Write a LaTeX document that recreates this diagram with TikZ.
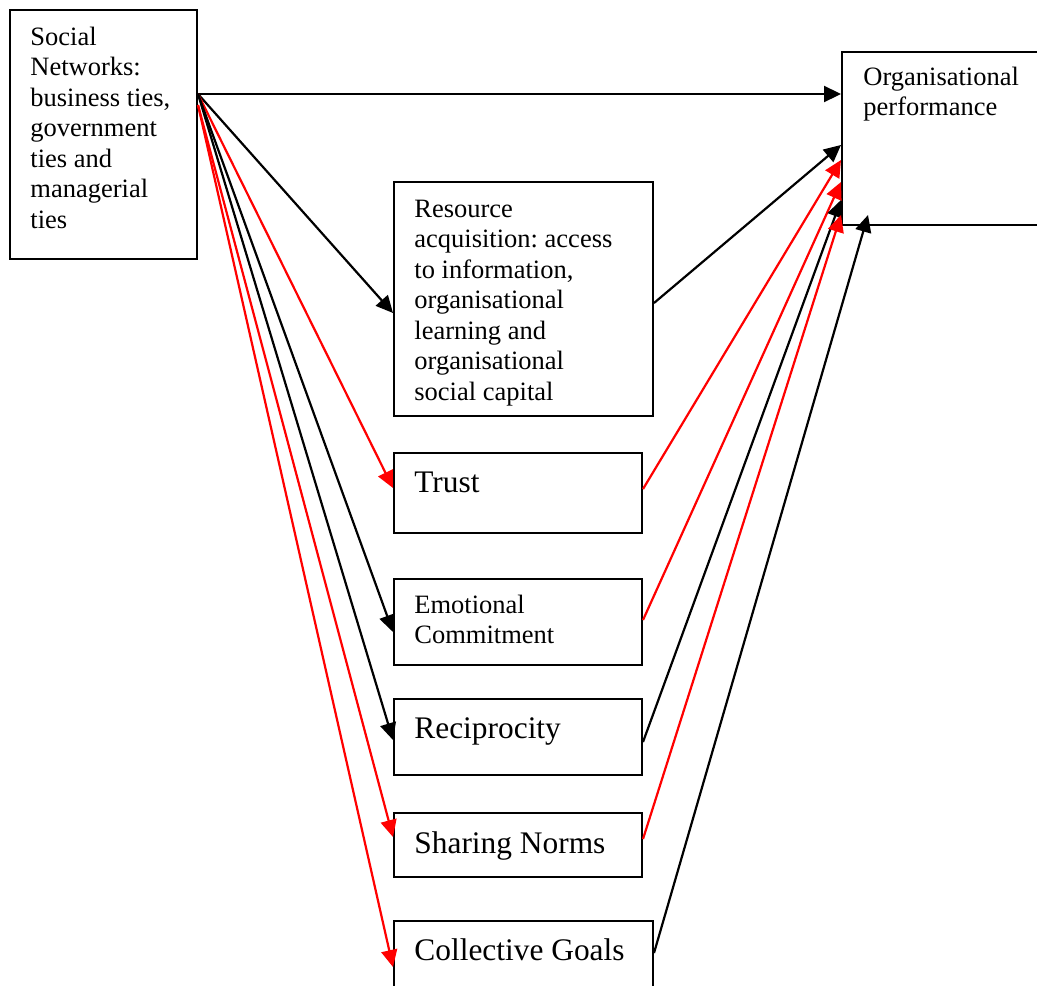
\documentclass[tikz,border=0pt]{standalone}
\usepackage{fontspec}
\setmainfont{Liberation Serif}
\usetikzlibrary{arrows.meta,calc}
\begin{document}
\frenchspacing
\begin{tikzpicture}[x=0.5pt,y=-0.5pt,
  box/.style={draw, line width=1pt, inner sep=0pt, anchor=north west},
  txt/.style={anchor=north west, inner sep=0pt, align=left, font=\fontsize{13.25}{15.25}\selectfont},
  bigtxt/.style={anchor=north west, inner sep=0pt, align=left, font=\fontsize{15.7}{18}\selectfont},
  arr/.style={line width=1.1pt, -{Triangle[length=8.5pt,width=8pt]}},
  blk/.style={arr, draw=black, fill=black},
  rd/.style={arr, draw=red, fill=red}]
\clip (0,0) rectangle (1037,985);
\fill[white] (0,0) rectangle (1037,985);
% boxes
\node[box, minimum width=93.5pt, minimum height=124.5pt] (sn) at (9,9) {};
\node[box, minimum width=120pt, minimum height=86.5pt] (op) at (841,51) {};
\node[box, minimum width=129.5pt, minimum height=117pt] (res) at (393,181) {};
\node[box, minimum width=124pt, minimum height=40pt] (trust) at (393,452) {};
\node[box, minimum width=124pt, minimum height=43pt] (ec) at (393,578) {};
\node[box, minimum width=124pt, minimum height=38pt] (rec) at (393,698) {};
\node[box, minimum width=124pt, minimum height=32pt] (sh) at (393,812) {};
\node[box, minimum width=129.5pt, minimum height=50pt] (cg) at (393,920) {};
% texts
\node[txt] (snT) at (30,25) {\rule{0pt}{10pt}Social\\Networks:\\business ties,\\government\\ties and\\managerial\\ties};
\node[txt] (opT) at (863,65) {\rule{0pt}{10pt}Organisational\\performance};
\node[txt] (resT) at (414,197) {\rule{0pt}{10pt}Resource\\acquisition: access\\to information,\\organisational\\learning and\\organisational\\social capital};
\node[bigtxt] (trustT) at (414,468) {\rule{0pt}{12pt}Trust};
\node[txt] (ecT) at (414,593) {\rule{0pt}{10pt}Emotional\\Commitment};
\node[bigtxt] (recT) at (414,714) {\rule{0pt}{12pt}Reciprocity};
\node[bigtxt] (shT) at (414,829) {\rule{0pt}{12pt}Sharing Norms};
\node[bigtxt] (cgT) at (414,936) {\rule{0pt}{12pt}Collective Goals};
% connectors from social networks
\draw[blk] ($(sn.north east)+(0,85)$) -- ($(op.north west)+(0,43)$);
\draw[blk] ($(sn.north east)+(0,85)$) -- ($(res.north west)+(0,132)$);
\draw[rd]  ($(sn.north east)+(0,85)$) -- ($(trust.north west)+(0,36)$);
\draw[blk] ($(sn.north east)+(0,85)$) -- ($(ec.north west)+(0,54)$);
\draw[blk] ($(sn.north east)+(0,85)$) -- ($(rec.north west)+(0,42)$);
\draw[rd]  ($(sn.north east)+(0,96)$) -- ($(sh.north west)+(0,25)$);
\draw[rd]  ($(sn.north east)+(0,96)$) -- ($(cg.north west)+(0,47)$);
% connectors to organisational performance
\draw[blk] ($(res.north east)+(0,122)$) -- ($(op.north west)+(0,94)$);
\draw[rd]  ($(trust.north east)+(0,37)$) -- ($(op.north west)+(0,109)$);
\draw[rd]  ($(ec.north east)+(0,42)$) -- ($(op.north west)+(0,131)$);
\draw[blk] ($(rec.north east)+(0,44)$) -- ($(op.north west)+(0,149)$);
\draw[rd]  ($(sh.north east)+(0,27)$) -- ($(op.north west)+(0,164)$);
\draw[blk] ($(cg.north east)+(0,33)$) -- ($(op.south west)+(27,-11)$);
\end{tikzpicture}
\end{document}
